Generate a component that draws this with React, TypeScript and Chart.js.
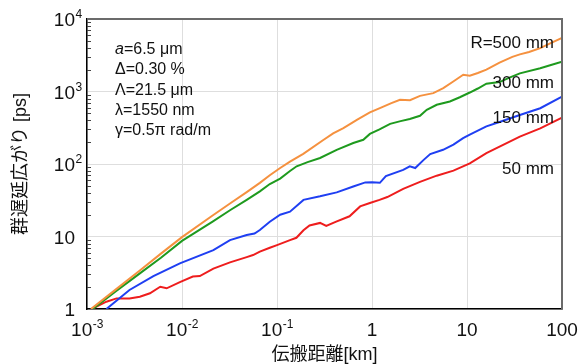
import { useEffect, useRef } from 'react';
import { Chart, registerables } from 'chart.js';

Chart.register(...registerables);

const FONT = "'Liberation Sans', Arial, 'Noto Sans CJK JP', sans-serif";

// Axis ticks
const xTickValues = [0.001, 0.01, 0.1, 1, 10, 100];
const xTickLabels = ['10^-3', '10^-2', '10^-1', '1', '10', '100'];
const yTickValues = [1, 10, 100, 1000, 10000];
const yTickLabels = ['1', '10', '10^2', '10^3', '10^4'];

const xTitle = '伝搬距離[km]';
const yTitle = '群遅延広がり [ps]';

// Series
const seriesNames = ['R=500 mm', '300 mm', '150 mm', '50 mm'];
const seriesColors = ['#f5913f', '#1e9a1e', '#1f3ff2', '#ee1d1d'];
const seriesLabelY = [4000, 1120, 370, 73];

const r500X = [0.0011, 0.002, 0.0036, 0.006, 0.01, 0.021, 0.032, 0.048, 0.066, 0.084, 0.108, 0.137, 0.189, 0.31, 0.39, 0.5, 0.7, 0.95, 1.21, 1.6, 1.97, 2.51, 3.2, 4.42, 5.63, 7.17, 9.13, 10.7, 13, 16, 22, 30, 36, 45, 59, 75, 100];
const r500Y = [1, 1.85, 3.4, 5.8, 9.8, 19.5, 28.5, 41, 55, 70, 88, 108, 138, 216, 265, 313, 410, 514, 591, 690, 770, 760, 870, 950, 1114, 1375, 1700, 1650, 1800, 2000, 2500, 3000, 3250, 3500, 3960, 4600, 5500];

const r300X = [0.00115, 0.002, 0.0036, 0.006, 0.01, 0.021, 0.032, 0.048, 0.066, 0.084, 0.108, 0.137, 0.161, 0.21, 0.284, 0.425, 0.635, 0.81, 0.95, 1.2, 1.55, 2.0, 2.5, 3.2, 3.77, 4.8, 6.6, 8.4, 10.7, 13, 16, 22, 28, 36, 59, 75, 100];
const r300Y = [1, 1.75, 3.1, 5.1, 8.7, 16, 23, 32, 42, 53, 63, 80, 93, 106, 121, 157, 195, 216, 260, 300, 358, 390, 418, 463, 560, 656, 728, 833, 968, 1100, 1280, 1350, 1550, 1780, 2090, 2300, 2570];

const r150X = [0.0016, 0.0028, 0.005, 0.0095, 0.0214, 0.032, 0.048, 0.058, 0.066, 0.084, 0.108, 0.137, 0.19, 0.284, 0.425, 0.635, 0.85, 1.0, 1.21, 1.4, 2.13, 2.5, 2.85, 3.5, 4.1, 5.6, 7.2, 9.1, 10.7, 16, 22, 36, 59, 100];
const r150Y = [1, 1.83, 2.85, 4.27, 6.5, 8.9, 10.5, 11, 12.3, 16, 20, 22, 32, 35.8, 40.6, 49, 55.7, 56, 55, 68, 83, 93, 88, 114, 137, 157, 185, 228, 255, 330, 380, 474, 588, 850];

const r50X = [0.00112, 0.0016, 0.00205, 0.0028, 0.0036, 0.0046, 0.0059, 0.0069, 0.0095, 0.013, 0.0154, 0.0214, 0.032, 0.048, 0.056, 0.066, 0.084, 0.1, 0.137, 0.16, 0.19, 0.22, 0.284, 0.33, 0.42, 0.58, 0.75, 0.95, 1.2, 1.45, 2.13, 3.2, 4.8, 7.2, 10.7, 16, 36, 59, 100];
const r50Y = [1, 1.26, 1.4, 1.4, 1.48, 1.65, 2.03, 1.93, 2.35, 2.8, 2.85, 3.6, 4.4, 5.2, 5.55, 6.2, 7.0, 7.6, 8.9, 9.6, 12.2, 14.2, 15.4, 14, 16, 19, 26, 29, 32, 35, 45.5, 56.6, 69, 81, 102, 141, 239, 310, 435];

const seriesX = [r500X, r300X, r150X, r50X];
const seriesY = [r500Y, r300Y, r150Y, r50Y];

// Fiber parameters
const paramLines = ['a=6.5 μm', 'Δ=0.30 %', 'Λ=21.5 μm', 'λ=1550 nm', 'γ=0.5π rad/m'];

function drawPowLabel(ctx: CanvasRenderingContext2D, label: string, x: number, baseline: number, mode: 'center' | 'right') {
  const [base, exp] = label.split('^');
  ctx.font = `19px ${FONT}`;
  const bw = ctx.measureText(base).width;
  let ew = 0;
  if (exp) {
    ctx.font = `12px ${FONT}`;
    ew = ctx.measureText(exp).width;
  }
  const startX = mode === 'center' ? x - (bw + ew) / 2 : x - bw;
  ctx.textAlign = 'left';
  ctx.textBaseline = 'alphabetic';
  ctx.font = `19px ${FONT}`;
  ctx.fillText(base, startX, baseline);
  if (exp) {
    ctx.font = `12px ${FONT}`;
    ctx.fillText(exp, startX + bw + 0.5, baseline - 8);
  }
}

const overlayPlugin = {
  id: 'overlay',
  afterDraw(chart: any) {
    const { ctx, chartArea: ca, scales } = chart;
    const xs = scales.x;
    const ys = scales.y;
    ctx.save();
    // top & right frame
    ctx.strokeStyle = '#6b6b6b';
    ctx.lineWidth = 2;
    ctx.beginPath();
    ctx.moveTo(ca.left, ca.top);
    ctx.lineTo(ca.right, ca.top);
    ctx.lineTo(ca.right, ca.bottom);
    ctx.stroke();
    // y minor ticks
    ctx.strokeStyle = '#444';
    ctx.lineWidth = 1;
    ctx.beginPath();
    for (let d = 1; d < 10000; d *= 10) {
      for (let m = 2; m <= 9; m++) {
        const py = Math.round(ys.getPixelForValue(d * m)) + 0.5;
        ctx.moveTo(ca.left, py);
        ctx.lineTo(ca.left + 4, py);
      }
    }
    ctx.stroke();
    // tick labels
    ctx.fillStyle = '#111';
    xTickValues.forEach((v, i) => {
      drawPowLabel(ctx, xTickLabels[i], xs.getPixelForValue(v), ca.bottom + 27, 'center');
    });
    yTickValues.forEach((v, i) => {
      drawPowLabel(ctx, yTickLabels[i], ca.left - 12, ys.getPixelForValue(v) + 7, 'right');
    });
    // series labels
    ctx.font = `17px ${FONT}`;
    ctx.textAlign = 'right';
    ctx.textBaseline = 'alphabetic';
    seriesNames.forEach((n, i) => {
      ctx.fillText(n, ca.right - 8, ys.getPixelForValue(seriesLabelY[i]));
    });
    // parameter block
    const px = ca.left + 28;
    paramLines.forEach((line, i) => {
      const by = ca.top + 35 + i * 20.3;
      ctx.textAlign = 'left';
      if (line.startsWith('a=')) {
        ctx.font = `italic 16px ${FONT}`;
        ctx.fillText('a', px, by);
        const w = ctx.measureText('a').width;
        ctx.font = `16px ${FONT}`;
        ctx.fillText(line.slice(1), px + w, by);
      } else {
        ctx.font = `16px ${FONT}`;
        ctx.fillText(line, px, by);
      }
    });
    ctx.restore();
  },
};

export default function App() {
  const ref = useRef<HTMLCanvasElement | null>(null);
  useEffect(() => {
    if (!ref.current) return;
    const chart = new Chart(ref.current, {
      type: 'line',
      data: {
        datasets: seriesNames.map((name, i) => ({
          label: name,
          data: seriesX[i].map((x, j) => ({ x, y: seriesY[i][j] })),
          borderColor: seriesColors[i],
          backgroundColor: seriesColors[i],
          borderWidth: 2,
          pointRadius: 0,
          tension: 0,
          fill: false,
        })),
      },
      options: {
        animation: false,
        responsive: false,
        parsing: true,
        layout: { padding: { left: 0, right: 17, top: 19, bottom: 0 } },
        plugins: { legend: { display: false }, tooltip: { enabled: false } },
        scales: {
          x: {
            type: 'logarithmic',
            min: 0.001,
            max: 100,
            afterBuildTicks: (s: any) => {
              s.ticks = xTickValues.map((v) => ({ value: v, major: true }));
            },
            afterFit: (s: any) => {
              s.height = 55;
            },
            ticks: { display: false },
            grid: { color: '#dedede', lineWidth: 1, drawTicks: false },
            border: { color: '#000', width: 1.5 },
            title: {
              display: true,
              text: xTitle,
              color: '#111',
              font: { family: FONT, size: 18, lineHeight: 1 },
              padding: { top: 0, bottom: 0 },
            },
          },
          y: {
            type: 'logarithmic',
            min: 1,
            max: 10000,
            afterBuildTicks: (s: any) => {
              s.ticks = yTickValues.map((v) => ({ value: v, major: true }));
            },
            afterFit: (s: any) => {
              s.width = 87;
            },
            ticks: { display: false },
            grid: { color: '#dedede', lineWidth: 1, drawTicks: false },
            border: { color: '#000', width: 1.5 },
            title: {
              display: true,
              text: yTitle,
              color: '#111',
              font: { family: FONT, size: 18, lineHeight: 1 },
              padding: { top: 12, bottom: 0 },
            },
          },
        },
      },
      plugins: [overlayPlugin],
    });
    return () => chart.destroy();
  }, []);
  return (
    <div style={{ position: 'absolute', left: 0, top: 0, width: 579, height: 364, background: '#fff' }}>
      <canvas ref={ref} width={579} height={364} />
    </div>
  );
}
